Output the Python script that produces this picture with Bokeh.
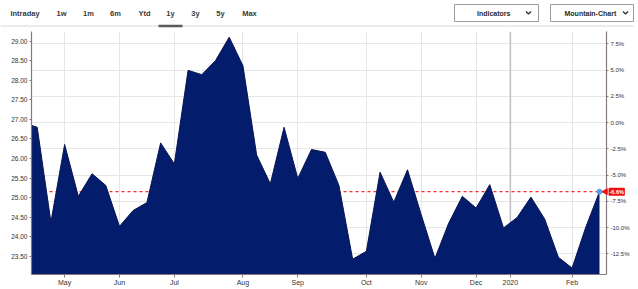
import math
from bokeh.plotting import figure
from bokeh.models import (Range1d, LinearAxis, FixedTicker, PrintfTickFormatter, Span, Label,
                          ColumnDataSource, GridBox)
from bokeh.embed import file_html
from bokeh.resources import INLINE
from bokeh.core.properties import value

# ---------------- data ----------------
prices = [26.92, 26.80, 24.37, 26.36, 25.03, 25.61, 25.31, 24.26, 24.67, 24.87,
          26.40, 25.86, 28.26, 28.15, 28.51, 29.11, 28.38, 26.09, 25.35, 26.80,
          25.49, 26.23, 26.16, 25.31, 23.42, 23.62, 25.65, 24.88, 25.71, 24.56,
          23.44, 24.34, 25.03, 24.73, 25.33, 24.22, 24.49, 25.01, 24.45, 23.47,
          23.19, 24.24, 25.15]
month_labels = ["May", "Jun", "Jul", "Aug", "Sep", "Oct", "Nov", "Dec", "2020", "Feb"]
month_index = [3, 7, 11, 16, 20, 25, 29, 33, 35.5, 40]
price_ticks = [23.5, 24.0, 24.5, 25.0, 25.5, 26.0, 26.5, 27.0, 27.5, 28.0, 28.5, 29.0]
pct_ticks = [-12.5, -10.0, -7.5, -5.0, -2.5, 0.0, 2.5, 5.0, 7.5]
tabs = ["Intraday", "1w", "1m", "6m", "Ytd", "1y", "3y", "5y", "Max"]
dropdowns = ["Indicators", "Mountain-Chart"]

# ---------------- layout constants ----------------
FONT_NAME = "Liberation Sans"
FONT = value(FONT_NAME)
W = 638
H_TOP = 31
H_MAIN = 258
BORDER_L, BORDER_R, BORDER_B = 31, 32, 15
tab_x = [24.5, 61, 88, 115, 144, 170, 195, 220, 249]
selected_tab = 5
Y_START, Y_END = 23.026, 29.256
X_START, X_END = 0.584, 42.51
NAVY = "#031c6c"
RED = "#ee1111"

# ---------------- top bar ----------------
top = figure(width=W, height=H_TOP, x_range=Range1d(0, W), y_range=Range1d(H_TOP, 0),
             toolbar_location=None, output_backend="svg", min_border=0,
             x_axis_location=None, y_axis_location=None)
top.frame_align = False
top.grid.visible = False
top.outline_line_color = None
top.background_fill_color = "white"
top.border_fill_color = "white"

top.segment(x0=[0], y0=[25.5], x1=[633], y1=[25.5], line_color="#d8d8d8", line_width=1)
top.segment(x0=[tab_x[selected_tab] - 12], y0=[25.5], x1=[tab_x[selected_tab] + 12], y1=[25.5],
            line_color="#5a5a5a", line_width=2.5)
top.text(x=tab_x, y=[12.5] * len(tabs), text=tabs, text_font=FONT, text_font_style="bold",
         text_font_size="7.5px", text_align="center", text_baseline="middle", text_color="#3a3a3a")

box_l = [454, 550]
box_r = [538, 633]
top.quad(left=box_l, right=box_r, top=[4, 4], bottom=[21, 21], fill_color="white",
         line_color="#9c9c9c", line_width=1)
top.text(x=[476.5, 564], y=[12.5, 12.5], text=dropdowns, text_font=FONT, text_font_style="bold",
         text_font_size="7px", text_align="left", text_baseline="middle", text_color="#2a2a2a")
chev = [528, 625]
top.multi_line(xs=[[c - 2.5, c, c + 2.5] for c in chev], ys=[[11, 13.5, 11] for _ in chev],
               line_color="#333333", line_width=1.4)

# ---------------- main chart ----------------
idx = list(range(len(prices)))
p0 = prices[0]
last = prices[-1]
last_pct = (last / p0 - 1) * 100

p = figure(width=W, height=H_MAIN, x_range=Range1d(X_START, X_END), y_range=Range1d(Y_START, Y_END),
           toolbar_location=None, output_backend="svg",
           min_border_left=BORDER_L, min_border_right=BORDER_R, min_border_top=0,
           min_border_bottom=BORDER_B)
p.frame_align = False
p.outline_line_color = None
p.background_fill_color = "white"
p.border_fill_color = "white"

p.extra_y_ranges = {"pct": Range1d(start=(Y_START / p0 - 1) * 100, end=(Y_END / p0 - 1) * 100)}

# grids
p.xgrid.ticker = FixedTicker(ticks=[m for m, l in zip(month_index, month_labels) if l != "2020"])
p.ygrid.ticker = FixedTicker(ticks=[p0 * (1 + t / 100) for t in pct_ticks])
p.grid.grid_line_color = "#e6e6e6"
p.grid.grid_line_width = 1

year_pos = month_index[month_labels.index("2020")]
p.add_layout(Span(location=year_pos, dimension="height", line_color="#bdbdbd", line_width=1.5, level="underlay"))
p.add_layout(Span(location=last, dimension="width", line_color="#ff2a2a", line_width=1.3,
                  line_dash="3 3", level="underlay"))

src = ColumnDataSource(data=dict(x=idx, price=prices, base=[Y_START - 1] * len(prices)))
p.varea(x="x", y1="base", y2="price", source=src, fill_color=NAVY)
p.line(x="x", y="price", source=src, line_color="#0a1450", line_width=1)
p.scatter(x=[idx[-1]], y=[last], size=5, fill_color="#4aa8f0", line_color="#4aa8f0")

AXIS_COL = "#85787f"
LABEL_COL = "#333333"

yax = p.yaxis[0]
yax.ticker = FixedTicker(ticks=price_ticks)
yax.formatter = PrintfTickFormatter(format="%.2f")

rax = LinearAxis(y_range_name="pct", ticker=FixedTicker(ticks=pct_ticks),
                 formatter=PrintfTickFormatter(format="%.1f%%"))
p.add_layout(rax, "right")

xax = p.xaxis[0]
xax.ticker = FixedTicker(ticks=month_index)
xax.major_label_overrides = {m: l for m, l in zip(month_index, month_labels)}

for ax in (yax, rax, xax):
    ax.axis_line_color = AXIS_COL
    ax.axis_line_width = 1.2
    ax.major_tick_line_color = AXIS_COL
    ax.major_tick_in = 0
    ax.major_tick_out = 2
    ax.minor_tick_line_color = None
    ax.major_label_text_font = FONT_NAME
    ax.major_label_text_color = LABEL_COL
    ax.major_label_standoff = 2

yax.major_label_text_font_size = "6.5px"
rax.major_label_text_font_size = "6px"
xax.major_label_text_font_size = "7px"
xax.major_tick_out = 3
xax.major_label_standoff = 1

# ---------------- transparent overlay for the last-value badge ----------------
sx = (X_END - X_START) / (W - BORDER_L - BORDER_R)
sy = (Y_END - Y_START) / (H_MAIN - BORDER_B)
ov = figure(width=W, height=H_MAIN,
            x_range=Range1d(X_START - BORDER_L * sx, X_END + BORDER_R * sx),
            y_range=Range1d(Y_START - BORDER_B * sy, Y_END),
            toolbar_location=None, output_backend="svg", min_border=0,
            x_axis_location=None, y_axis_location=None)
ov.frame_align = False
ov.grid.visible = False
ov.outline_line_color = None
ov.background_fill_alpha = 0
ov.border_fill_alpha = 0

ov.scatter(x=[idx[-1] + 6.0 * sx], y=[last], marker="triangle", angle=math.pi / 2, size=6,
           fill_color=RED, line_color=RED)
ov.add_layout(Label(x=idx[-1], y=last, x_offset=9, text=f"{last_pct:.1f}%", text_color="white",
                    text_font=FONT_NAME, text_font_size="5.5px", text_font_style="bold",
                    text_align="left", text_baseline="middle",
                    background_fill_color=RED, background_fill_alpha=1.0,
                    padding=1, border_radius=1))

layout = GridBox(children=[(top, 0, 0), (p, 1, 0), (ov, 1, 0)], spacing=0)
open("out.html", "w").write(file_html(layout, INLINE))
